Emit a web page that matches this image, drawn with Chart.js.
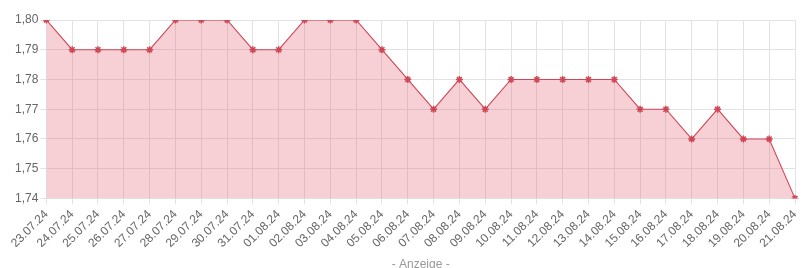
<!DOCTYPE html>
<html>
<head>
<meta charset="utf-8">
<script src="https://cdn.jsdelivr.net/npm/chart.js@4"></script>
<style>
  html, body { margin: 0; padding: 0; background: #fff; }
  #wrap { width: 812px; height: 268px; }
</style>
</head>
<body>
<div id="wrap"><canvas id="priceChart"></canvas></div>
<script>
const dates = [
  "23.07.24", "24.07.24", "25.07.24", "26.07.24", "27.07.24", "28.07.24",
  "29.07.24", "30.07.24", "31.07.24", "01.08.24", "02.08.24", "03.08.24",
  "04.08.24", "05.08.24", "06.08.24", "07.08.24", "08.08.24", "09.08.24",
  "10.08.24", "11.08.24", "12.08.24", "13.08.24", "14.08.24", "15.08.24",
  "16.08.24", "17.08.24", "18.08.24", "19.08.24", "20.08.24", "21.08.24",
];
const prices = [
  1.80, 1.79, 1.79, 1.79, 1.79, 1.80,
  1.80, 1.80, 1.79, 1.79, 1.80, 1.80,
  1.80, 1.79, 1.78, 1.77, 1.78, 1.77,
  1.78, 1.78, 1.78, 1.78, 1.78, 1.77,
  1.77, 1.76, 1.77, 1.76, 1.76, 1.74,
];
const yMin = 1.74;
const yMax = 1.80;
const yStep = 0.01;

document.addEventListener("DOMContentLoaded", function () {
  const ctx = document.getElementById("priceChart").getContext("2d");
  new Chart(ctx, {
    type: "line",
    data: {
      labels: dates,
      datasets: [
        {
          data: prices,
          borderColor: "#cf4655",
          backgroundColor: "rgba(230, 110, 125, 0.32)",
          borderWidth: 1.1,
          fill: "start",
          tension: 0,
          pointStyle: "star",
          pointRadius: 3.5,
          pointBorderColor: "#cf4655",
          pointBorderWidth: 1.5,
        },
      ],
    },
    options: {
      responsive: true,
      maintainAspectRatio: false,
      animation: false,
      layout: { padding: { top: 20, right: 17, left: 13, bottom: -4 } },
      plugins: {
        legend: { display: false },
        tooltip: { enabled: false },
      },
      scales: {
        x: {
          grid: { color: "#e2e2e2", tickLength: 6 },
          border: { color: "#e2e2e2" },
          ticks: {
            color: "#666",
            font: { family: "Arial, Liberation Sans", size: 12 },
            maxRotation: 45,
            minRotation: 45,
            autoSkip: false,
            padding: 3,
          },
          title: {
            display: true,
            text: "- Anzeige -",
            color: "#999",
            font: { family: "Arial, Liberation Sans", size: 12 },
            padding: { top: 4, bottom: 0 },
          },
        },
        y: {
          min: yMin,
          max: yMax,
          grid: { color: "#e2e2e2", tickLength: 6 },
          border: { color: "#e2e2e2" },
          ticks: {
            stepSize: yStep,
            color: "#666",
            font: { family: "Arial, Liberation Sans", size: 12 },
            padding: 2,
            callback: function (value) {
              return value.toFixed(2).replace(".", ",");
            },
          },
        },
      },
    },
  });
});
</script>
</body>
</html>
